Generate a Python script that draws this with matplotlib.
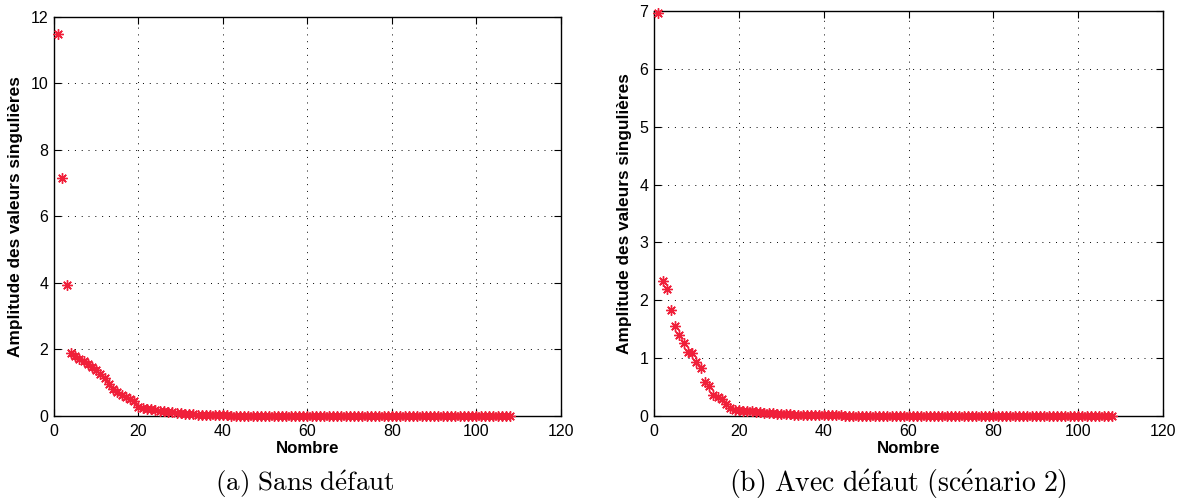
import matplotlib
matplotlib.use("Agg")
import matplotlib.pyplot as plt
import numpy as np

# singular values, case (a) without fault
sv_sans_defaut = [
    11.5, 7.15, 3.95, 1.88, 1.80, 1.72, 1.65, 1.56, 1.47, 1.38,
    1.27, 1.14, 0.95, 0.82, 0.72, 0.62, 0.57, 0.52, 0.45, 0.27,
    0.24, 0.22, 0.21, 0.19, 0.16, 0.14, 0.12, 0.11, 0.10, 0.08,
    0.07, 0.06, 0.05, 0.04, 0.035, 0.03, 0.025, 0.02, 0.02, 0.015,
    0.015, 0.014, 0.013, 0.012, 0.012, 0.011, 0.010, 0.010, 0.009, 0.009,
    0.008, 0.008, 0.008, 0.007, 0.007, 0.007, 0.006, 0.006, 0.006, 0.006,
    0.005, 0.005, 0.005, 0.005, 0.005, 0.004, 0.004, 0.004, 0.004, 0.004,
    0.004, 0.003, 0.003, 0.003, 0.003, 0.003, 0.003, 0.003, 0.002, 0.002,
    0.002, 0.002, 0.002, 0.002, 0.002, 0.002, 0.002, 0.001, 0.001, 0.001,
    0.001, 0.001, 0.001, 0.001, 0.001, 0.001, 0.001, 0.001, 0.001, 0.001,
    0.001, 0.001, 0.0, 0.0, 0.0, 0.0, 0.0, 0.0,
]

# singular values, case (b) with fault (scenario 2)
sv_avec_defaut = [
    6.97, 2.34, 2.19, 1.84, 1.55, 1.40, 1.26, 1.10, 1.09, 0.93,
    0.83, 0.58, 0.52, 0.36, 0.32, 0.29, 0.21, 0.14, 0.11, 0.10,
    0.09, 0.085, 0.08, 0.07, 0.065, 0.06, 0.05, 0.045, 0.04, 0.035,
    0.03, 0.027, 0.024, 0.02, 0.018, 0.016, 0.014, 0.013, 0.012, 0.011,
    0.010, 0.010, 0.009, 0.009, 0.008, 0.008, 0.007, 0.007, 0.007, 0.006,
    0.006, 0.006, 0.005, 0.005, 0.005, 0.005, 0.004, 0.004, 0.004, 0.004,
    0.004, 0.003, 0.003, 0.003, 0.003, 0.003, 0.003, 0.003, 0.002, 0.002,
    0.002, 0.002, 0.002, 0.002, 0.002, 0.002, 0.002, 0.001, 0.001, 0.001,
    0.001, 0.001, 0.001, 0.001, 0.001, 0.001, 0.001, 0.001, 0.001, 0.001,
    0.001, 0.001, 0.0, 0.0, 0.0, 0.0, 0.0, 0.0, 0.0, 0.0,
    0.0, 0.0, 0.0, 0.0, 0.0, 0.0, 0.0, 0.0,
]

x_ticks = [0, 20, 40, 60, 80, 100, 120]
y_ticks_a = [0, 2, 4, 6, 8, 10, 12]
y_ticks_b = [0, 1, 2, 3, 4, 5, 6, 7]

captions = [r"$\mathrm{(a)\ Sans\ d\acute{e}faut}$",
            r"$\mathrm{(b)\ Avec\ d\acute{e}faut\ (sc\acute{e}nario\ 2)}$"]

plt.rcParams["font.family"] = ["Liberation Sans", "DejaVu Sans"]
plt.rcParams["mathtext.fontset"] = "cm"

fig = plt.figure(figsize=(11.84, 5.01), dpi=100)
ax_a = fig.add_axes([0.0456, 0.1697, 0.4282, 0.7964])
ax_b = fig.add_axes([0.5524, 0.1697, 0.4299, 0.8084])

red = "#f0203a"


def style_axes(ax, values, yticks, ylim):
    n = np.arange(1, len(values) + 1)
    ax.plot(n, values, linestyle="none", marker=(8, 2, 0), markersize=7.5,
            markeredgewidth=1.0, color=red, markeredgecolor=red, clip_on=False,
            zorder=3)
    ax.set_xlim(0, 120)
    ax.set_ylim(0, ylim)
    ax.set_xticks(x_ticks)
    ax.set_yticks(yticks)
    ax.grid(True, color="black", linestyle=(0, (1, 6)), linewidth=0.7)
    ax.tick_params(direction="in", top=True, right=True, length=5,
                   width=0.8, labelsize=11.5)
    ax.tick_params(axis="x", pad=6)
    ax.tick_params(axis="y", pad=4)
    for sp in ax.spines.values():
        sp.set_linewidth(1.0)
        sp.set_color("black")
    ax.set_xlabel("Nombre", fontsize=12.2, fontweight="bold")
    ax.set_ylabel("Amplitude des valeurs singulières", fontsize=12.4,
                  fontweight="bold")


style_axes(ax_a, sv_sans_defaut, y_ticks_a, 12)
style_axes(ax_b, sv_avec_defaut, y_ticks_b, 7)

ax_a.xaxis.set_label_coords(0.5, -0.063)
ax_b.xaxis.set_label_coords(0.5, -0.062)
ax_a.yaxis.set_label_coords(-0.061, 0.5)
ax_b.yaxis.set_label_coords(-0.043, 0.5)

fig.text(305 / 1184, 1 - 484 / 501, captions[0], ha="center", va="center",
         fontsize=19.5)
fig.text(898 / 1184, 1 - 484 / 501, captions[1], ha="center", va="center",
         fontsize=20)

fig.savefig("out.png", dpi=100)
